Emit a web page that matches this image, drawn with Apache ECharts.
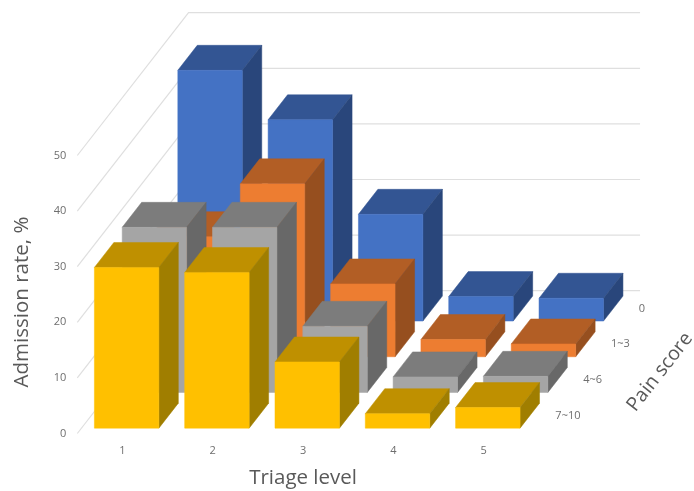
<!DOCTYPE html>
<html>
<head>
<meta charset="utf-8">
<style>html,body{margin:0;padding:0;background:#fff}#chart{width:694px;height:491px}</style>
<script src="https://cdn.jsdelivr.net/npm/echarts@6/dist/echarts.min.js"></script>
</head>
<body>
<div id="chart"></div>
<script>
// Admission rate (%) by triage level, one row of boxes per pain score band.
const triageLevels = ['1', '2', '3', '4', '5'];
const painScores = ['7~10', '4~6', '1~3', '0'];
const ratePain7to10 = [28.9, 28.0, 11.9, 2.6, 3.7];
const ratePain4to6 = [29.7, 29.7, 11.9, 2.8, 2.9];
const ratePain1to3 = [21.6, 31.1, 13.1, 3.1, 2.3];
const ratePain0 = [45.1, 36.2, 19.2, 4.4, 4.1];
const rateTicks = [0, 10, 20, 30, 40, 50];

// Oblique depth: one pain-score row moves this far along the x and value axes.
const DEPTH_X = 0.308;
const DEPTH_V = 6.42;
const BAR_GAP_X = 0.143;
const BAR_GAP_DEPTH = 0.15;
const GRID_COLOR = '#dfdfdf';
const TEXT_COLOR = '#6e6e6e';
const TITLE_COLOR = '#595959';

function project(api, t, row, v) {
  return api.coord([t + row * DEPTH_X, v + row * DEPTH_V]);
}

function face(points, fill) {
  return { type: 'polygon', shape: { points }, style: { fill, stroke: fill, lineWidth: 0.5 }, silent: true };
}

// One box per triage level; the row index sets how far back it stands.
function boxRenderer(row, colors) {
  return function (params, api) {
    const i = api.value(0);
    const v = api.value(1);
    const x0 = i + BAR_GAP_X, x1 = i + 1 - BAR_GAP_X;
    const d0 = row + BAR_GAP_DEPTH, d1 = row + 1 - BAR_GAP_DEPTH;
    return {
      type: 'group',
      children: [
        face([project(api, x0, d0, v), project(api, x1, d0, v), project(api, x1, d1, v), project(api, x0, d1, v)], colors.top),
        face([project(api, x1, d0, 0), project(api, x1, d1, 0), project(api, x1, d1, v), project(api, x1, d0, v)], colors.side),
        face([project(api, x0, d0, 0), project(api, x1, d0, 0), project(api, x1, d0, v), project(api, x0, d0, v)], colors.front)
      ]
    };
  };
}

function boxSeries(name, row, values, colors) {
  return {
    type: 'custom',
    name,
    xAxisIndex: 1,
    yAxisIndex: 0,
    z: 3,
    encode: { x: 0, y: 1 },
    data: values.map((v, i) => [i, v]),
    renderItem: boxRenderer(row, colors)
  };
}

const series = [
  // Gridlines on the left wall and the back wall.
  {
    type: 'custom',
    xAxisIndex: 1,
    yAxisIndex: 0,
    z: 1,
    silent: true,
    encode: { x: 0, y: 1 },
    data: rateTicks.map(v => [0, v]),
    renderItem(params, api) {
      const v = api.value(1);
      const depth = painScores.length;
      const a = project(api, 0, 0, v), b = project(api, 0, depth, v), c = project(api, triageLevels.length, depth, v);
      return {
        type: 'polyline',
        shape: { points: [a, b, c] },
        style: { fill: 'none', stroke: GRID_COLOR, lineWidth: 1.2 }
      };
    }
  },
  boxSeries('0', 3, ratePain0, { front: '#4472C4', top: '#335593', side: '#29467B' }),
  boxSeries('1~3', 2, ratePain1to3, { front: '#ED7D31', top: '#B25E25', side: '#964F1F' }),
  boxSeries('4~6', 1, ratePain4to6, { front: '#A5A5A5', top: '#7C7C7C', side: '#686868' }),
  boxSeries('7~10', 0, ratePain7to10, { front: '#FFC000', top: '#BF9000', side: '#A07E00' }),
  // Pain score row labels along the right edge of the floor.
  {
    type: 'custom',
    xAxisIndex: 1,
    yAxisIndex: 0,
    z: 4,
    silent: true,
    encode: { x: 0, y: 1 },
    data: painScores.map((s, row) => [row, 0]),
    renderItem(params, api) {
      const row = api.value(0);
      const p = project(api, triageLevels.length + 0.14, row + 0.5, 0);
      return {
        type: 'text',
        x: p[0],
        y: p[1],
        style: {
          text: painScores[row],
          fill: TEXT_COLOR,
          font: '11px "Open Sans"',
          align: 'left',
          verticalAlign: 'middle'
        }
      };
    }
  }
];

const chart = echarts.init(document.getElementById('chart'), null, { renderer: 'canvas' });
chart.setOption({
  animation: false,
  backgroundColor: '#ffffff',
  grid: { left: 77.3, width: 451.5, top: 155.5, height: 278, outerBoundsMode: 'none' },
  xAxis: [
    {
      type: 'category',
      data: triageLevels,
      name: 'Triage level',
      nameLocation: 'middle',
      nameGap: 34.5,
      nameTextStyle: { color: TITLE_COLOR, fontSize: 20.5, fontFamily: 'Open Sans' },
      axisLine: { show: false },
      axisTick: { show: false },
      axisLabel: { color: TEXT_COLOR, fontSize: 11, fontFamily: 'Open Sans', margin: 12 }
    },
    { type: 'value', min: 0, max: triageLevels.length, show: false }
  ],
  yAxis: {
    type: 'value',
    min: 0,
    max: 50,
    interval: 10,
    name: 'Admission rate, %',
    nameLocation: 'middle',
    nameGap: 45,
    nameTextStyle: { color: TITLE_COLOR, fontSize: 20.5, fontFamily: 'Open Sans', padding: [0, 15, 0, 0] },
    axisLine: { show: false },
    axisTick: { show: false },
    splitLine: { show: false },
    axisLabel: { color: TEXT_COLOR, fontSize: 11, fontFamily: 'Open Sans', margin: 11 }
  },
  graphic: [{
    type: 'text',
    x: 660,
    y: 372,
    rotation: 52 * Math.PI / 180,
    style: { text: 'Pain score', fill: TITLE_COLOR, font: '19.5px "Open Sans"', align: 'center', verticalAlign: 'middle' }
  }],
  series
});
</script>
</body>
</html>
